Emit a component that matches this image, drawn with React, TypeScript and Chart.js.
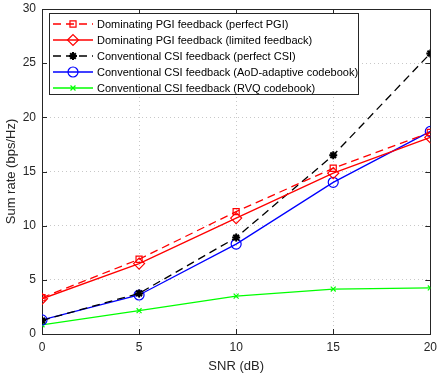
import React, { useEffect, useRef } from "react";
import { Chart, registerables } from "chart.js";
import { drawPoint } from "chart.js/helpers";

Chart.register(...registerables);

const snr = [0, 5, 10, 15, 20];
const pgiPerfect = [3.35, 6.9, 11.3, 15.3, 18.6];
const pgiLimited = [3.25, 6.5, 10.7, 14.85, 18.15];
const csiPerfect = [1.25, 3.75, 8.9, 16.5, 25.9];
const csiAoD = [1.3, 3.6, 8.3, 14.0, 18.7];
const csiRVQ = [0.85, 2.15, 3.5, 4.15, 4.25];

const labels = [
  "Dominating PGI feedback (perfect PGI)",
  "Dominating PGI feedback (limited feedback)",
  "Conventional CSI feedback (perfect CSI)",
  "Conventional CSI feedback (AoD-adaptive codebook)",
  "Conventional CSI feedback (RVQ codebook)",
];
const xTicks = [0, 5, 10, 15, 20];
const yTicks = [0, 5, 10, 15, 20, 25, 30];

const FONT = "'Liberation Sans', Arial, Helvetica, sans-serif";

const boxPlugin = {
  id: "matlabBox",
  beforeDatasetsDraw(chart: any) {
    const { ctx, chartArea } = chart;
    const { left, right, top, bottom } = chartArea;
    const xs = chart.scales.x;
    const ys = chart.scales.y;
    ctx.save();
    ctx.strokeStyle = "#262626";
    ctx.lineWidth = 1;
    ctx.setLineDash([]);
    ctx.beginPath();
    const L = 5;
    xTicks.forEach((t) => {
      const px = Math.round(xs.getPixelForValue(t)) + 0.5;
      ctx.moveTo(px, bottom);
      ctx.lineTo(px, bottom - L);
      ctx.moveTo(px, top);
      ctx.lineTo(px, top + L);
    });
    yTicks.forEach((t) => {
      const py = Math.round(ys.getPixelForValue(t)) + 0.5;
      ctx.moveTo(left, py);
      ctx.lineTo(left + L, py);
      ctx.moveTo(right, py);
      ctx.lineTo(right - L, py);
    });
    ctx.stroke();
    ctx.strokeRect(Math.round(left) + 0.5, Math.round(top) + 0.5, Math.round(right - left), Math.round(bottom - top));
    ctx.restore();
  },
  afterDatasetsDraw(chart: any) {
    const { ctx, chartArea } = chart;
    const bx = chartArea.left + 7;
    const by = chartArea.top + 4;
    const bw = 309;
    const bh = 81;
    ctx.save();
    ctx.fillStyle = "#ffffff";
    ctx.fillRect(bx, by, bw, bh);
    ctx.strokeStyle = "#262626";
    ctx.lineWidth = 1;
    ctx.setLineDash([]);
    ctx.strokeRect(bx + 0.5, by + 0.5, bw, bh);
    chart.data.datasets.forEach((ds: any, i: number) => {
      const cy = by + 11 + i * 16;
      ctx.save();
      ctx.strokeStyle = ds.borderColor;
      ctx.lineWidth = ds.borderWidth;
      ctx.setLineDash(ds.borderDash || []);
      ctx.beginPath();
      ctx.moveTo(bx + 4, cy);
      ctx.lineTo(bx + 44, cy);
      ctx.stroke();
      ctx.setLineDash([]);
      ctx.strokeStyle = ds.pointBorderColor;
      ctx.fillStyle = "rgba(0,0,0,0)";
      ctx.lineWidth = ds.pointBorderWidth;
      drawPoint(ctx, { pointStyle: ds.pointStyle, radius: ds.pointRadius, rotation: 0, borderWidth: ds.pointBorderWidth }, bx + 24, cy);
      ctx.restore();
      ctx.fillStyle = "#000000";
      ctx.font = `11px ${FONT}`;
      ctx.textBaseline = "middle";
      ctx.textAlign = "left";
      ctx.fillText(labels[i], bx + 48, cy + 0.5);
    });
    ctx.restore();
  },
};

function mk(label: string, ys: number[], color: string, style: string, radius: number, dash: number[] | undefined, pbw = 1.2) {
  return {
    label,
    data: snr.map((x, i) => ({ x, y: ys[i] })),
    borderColor: color,
    backgroundColor: color,
    borderWidth: 1.3,
    borderDash: dash,
    pointStyle: style,
    pointRadius: radius,
    pointBorderColor: color,
    pointBackgroundColor: "rgba(0,0,0,0)",
    pointBorderWidth: pbw,
    tension: 0,
  };
}

export default function App() {
  const ref = useRef<HTMLCanvasElement | null>(null);
  useEffect(() => {
    if (!ref.current) return;
    const chart = new Chart(ref.current, {
      type: "line",
      data: {
        datasets: [
          mk(labels[0], pgiPerfect, "#ff0000", "rect", 4.3, [8, 5]),
          mk(labels[1], pgiLimited, "#ff0000", "rectRot", 5.5, undefined),
          mk(labels[2], csiPerfect, "#000000", "star", 4, [8, 5], 2),
          mk(labels[3], csiAoD, "#0000ff", "circle", 5, undefined),
          mk(labels[4], csiRVQ, "#00ff00", "crossRot", 3.5, undefined),
        ],
      },
      options: {
        animation: false,
        responsive: false,
        devicePixelRatio: 1,
        layout: { padding: { top: 9, right: 5, left: 0, bottom: 0 } },
        plugins: { legend: { display: false }, tooltip: { enabled: false } },
        scales: {
          x: {
            type: "linear",
            min: 0,
            max: 20,
            afterBuildTicks: (s: any) => {
              s.ticks = xTicks.map((v) => ({ value: v }));
            },
            afterFit: (s: any) => {
              s.height = 41;
              s.paddingLeft = 0;
              s.paddingRight = 0;
            },
            grid: { color: "#c8c8c8", drawTicks: false, lineWidth: 1 },
            border: { display: false, dash: [1, 3] },
            ticks: { color: "#262626", font: { family: FONT, size: 12 }, padding: 6, maxRotation: 0, autoSkip: false },
            title: { display: true, text: "SNR (dB)", color: "#262626", font: { family: FONT, size: 13 }, padding: { top: 0, bottom: 1 } },
          },
          y: {
            type: "linear",
            min: 0,
            max: 30,
            afterBuildTicks: (s: any) => {
              s.ticks = yTicks.map((v) => ({ value: v }));
            },
            afterFit: (s: any) => {
              s.width = 42;
              s.paddingTop = 0;
              s.paddingBottom = 0;
            },
            grid: { color: "#c8c8c8", drawTicks: false, lineWidth: 1 },
            border: { display: false, dash: [1, 3] },
            ticks: { color: "#262626", font: { family: FONT, size: 12 }, padding: 6, autoSkip: false },
            title: { display: true, text: "Sum rate (bps/Hz)", color: "#262626", font: { family: FONT, size: 13 }, padding: { top: 4, bottom: 0 } },
          },
        },
      },
      plugins: [boxPlugin],
    } as any);
    return () => chart.destroy();
  }, []);
  return (
    <div style={{ position: "fixed", left: 0, top: 0, width: 437, height: 375, background: "#fff" }}>
      <canvas ref={ref} width={437} height={375} style={{ display: "block", width: 437, height: 375 }} />
    </div>
  );
}
